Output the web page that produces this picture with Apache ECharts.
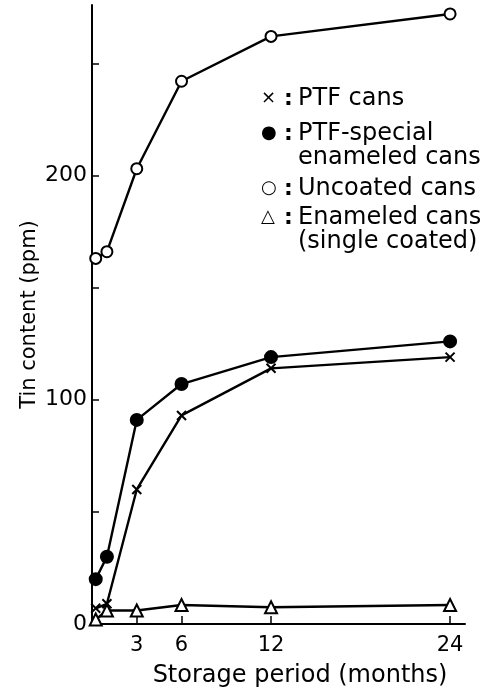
<!DOCTYPE html>
<html style="height: 100%">
<head>
  <meta charset="utf-8">
</head>
<body style="height: 100%; margin: 0; background: #fff">
<div id="chart" style="width: 490px; height: 693px"></div>
<script src="https://cdn.jsdelivr.net/npm/echarts@6/dist/echarts.min.js"></script>
<script>
  // storage period (months)
  var months = [0.25, 1, 3, 6, 12, 24];
  var xTickLabels = [3, 6, 12, 24];
  var yTickLabels = [0, 100, 200];
  var yTicks = [0, 50, 100, 150, 200, 250];

  // tin content (ppm)
  var ptfCans = [7, 9, 60, 93, 114, 119];
  var ptfSpecial = [20, 30, 91, 107, 119, 126];
  var uncoated = [163, 166, 203, 242, 262, 272];
  var enameled = [2, 6, 6, 8.5, 7.5, 8.5];

  var legendItems = [
    {sym: '×', lines: ['PTF cans']},
    {sym: '●', lines: ['PTF-special', 'enameled cans']},
    {sym: '○', lines: ['Uncoated cans']},
    {sym: '△', lines: ['Enameled cans', '(single coated)']}
  ];

  function pairs(ys) {
    return months.map(function (m, i) { return [m, ys[i]]; });
  }

  var font = 'DejaVu Sans';
  var chart = echarts.init(document.getElementById('chart'));

  var lineStyle = {color: '#000', width: 2.4};
  function mkSeries(name, ys, symbol, size) {
    return {
      name: name,
      type: 'line',
      data: pairs(ys),
      symbol: symbol,
      symbolSize: size,
      lineStyle: lineStyle,
      itemStyle: {color: '#000', borderColor: '#000', borderWidth: 2},
      emphasis: {disabled: true},
      z: 3
    };
  }

  // legend as text blocks
  var graphics = [];
  var ly = [101, 136, 191, 220];
  legendItems.forEach(function (it, i) {
    graphics.push({
      type: 'text', left: 261, top: ly[i] - 12,
      style: {text: it.sym, font: '18px ' + font, fill: '#000'}
    });
    graphics.push({
      type: 'text', left: 284, top: ly[i] - 13,
      style: {text: ':', font: 'bold 22px ' + font, fill: '#000'}
    });
    graphics.push({
      type: 'text', left: 298, top: ly[i] - 14,
      style: {text: it.lines.join('\n'), font: '24px ' + font, lineHeight: 24, fill: '#000'}
    });
  });

  var option = {
    animation: false,
    backgroundColor: '#fff',
    grid: {left: 92, right: 25, top: 5, bottom: 67},
    xAxis: {
      type: 'value',
      min: 0,
      max: 25,
      name: 'Storage period (months)',
      nameLocation: 'middle',
      nameGap: 40,
      nameTextStyle: {color: '#000', fontSize: 24, fontFamily: font, padding: [0, 0, 0, 43]},
      axisLine: {lineStyle: {color: '#000', width: 2}},
      axisTick: {inside: true, length: 8, lineStyle: {color: '#000', width: 1.5}, customValues: xTickLabels},
      axisLabel: {color: '#000', fontSize: 21, fontFamily: font, margin: 11, customValues: xTickLabels},
      splitLine: {show: false}
    },
    yAxis: {
      type: 'value',
      min: 0,
      max: 276,
      name: 'Tin content (ppm)',
      nameLocation: 'middle',
      nameGap: 52,
      nameMoveOverlap: false,
      nameRotate: 90,
      nameTextStyle: {color: '#000', fontSize: 21, fontFamily: font},
      axisLine: {show: true, lineStyle: {color: '#000', width: 2}},
      axisTick: {show: true, inside: true, length: 7, lineStyle: {color: '#000', width: 1.5}, customValues: yTicks},
      axisLabel: {color: '#000', fontSize: 22, fontFamily: font, margin: 5, customValues: yTickLabels},
      splitLine: {show: false}
    },
    series: [
      mkSeries('Uncoated cans', uncoated, 'emptyCircle', 11),
      mkSeries('PTF-special enameled cans', ptfSpecial, 'circle', 12),
      mkSeries('PTF cans', ptfCans, 'path://M0,0L10,10M10,0L0,10', 9),
      mkSeries('Enameled cans', enameled, 'emptyTriangle', 12)
    ],
    graphic: graphics
  };
  chart.setOption(option);
</script>
</body>
</html>
